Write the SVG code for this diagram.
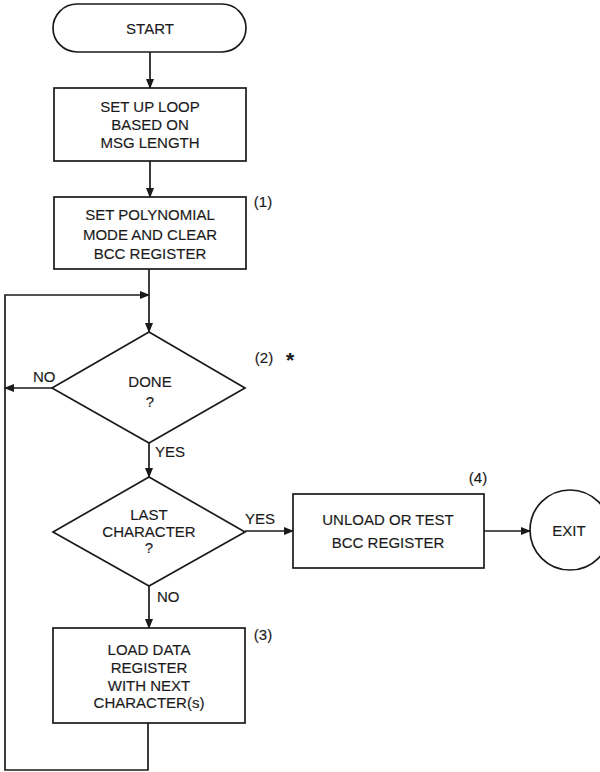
<svg xmlns="http://www.w3.org/2000/svg" width="600" height="772" viewBox="0 0 600 772">
<style>
.s{fill:none;stroke:#1a1a1a;stroke-width:1.7}
.n{fill:#fff;stroke:#1a1a1a;stroke-width:1.7}
text{font-family:"Liberation Sans",Arial,sans-serif;font-size:15px;fill:#1a1a1a;stroke:#1a1a1a;stroke-width:0.15;text-anchor:middle}
.l{text-anchor:start}
</style>
<defs>
<marker id="a" markerWidth="10" markerHeight="8" refX="9" refY="4" orient="auto" markerUnits="userSpaceOnUse">
<path d="M0,0 L10,4 L0,8 Z" fill="#1a1a1a"/>
</marker>
</defs>
<rect width="600" height="772" fill="#fff"/>
<g id="connectors">
<line class="s" x1="150" y1="52" x2="150" y2="88" marker-end="url(#a)"/>
<line class="s" x1="150" y1="161" x2="150" y2="197" marker-end="url(#a)"/>
<line class="s" x1="149" y1="269" x2="149" y2="332" marker-end="url(#a)"/>
<line class="s" x1="52" y1="388" x2="5" y2="388" marker-end="url(#a)"/>
<line class="s" x1="149" y1="443" x2="149" y2="477" marker-end="url(#a)"/>
<line class="s" x1="245" y1="531" x2="293" y2="531" marker-end="url(#a)"/>
<line class="s" x1="484" y1="531" x2="530" y2="531" marker-end="url(#a)"/>
<line class="s" x1="149" y1="586" x2="149" y2="628" marker-end="url(#a)"/>
<polyline class="s" points="148,723 148,770 5,770 5,295 149,295" marker-end="url(#a)"/>
<text class="l" x="33" y="382">NO</text>
<text class="l" x="155" y="457">YES</text>
<text class="l" x="245" y="524">YES</text>
<text class="l" x="157" y="602">NO</text>
</g>
<g id="start">
<rect class="n" x="53" y="4" width="193" height="48" rx="24"/>
<text x="150" y="34">START</text>
</g>
<g id="setup-loop">
<rect class="n" x="54" y="88" width="192" height="73"/>
<text x="150" y="112">SET UP LOOP</text>
<text x="150" y="130">BASED ON</text>
<text x="150" y="148">MSG LENGTH</text>
</g>
<g id="set-polynomial">
<rect class="n" x="54" y="197" width="192" height="72"/>
<text x="150" y="220">SET POLYNOMIAL</text>
<text x="150" y="240">MODE AND CLEAR</text>
<text x="150" y="259">BCC REGISTER</text>
<text x="263" y="207">(1)</text>
</g>
<g id="done">
<polygon class="n" points="149,332 245,388 149,443 52,388"/>
<text x="150" y="387">DONE</text>
<text x="150" y="407">?</text>
<text x="264" y="363">(2)</text>
<text x="290" y="367" style="font-size:21px;font-weight:bold">*</text>
</g>
<g id="last-character">
<polygon class="n" points="149,477 245,532 149,586 53,532"/>
<text x="149" y="520">LAST</text>
<text x="149" y="537">CHARACTER</text>
<text x="149" y="553">?</text>
</g>
<g id="unload">
<rect class="n" x="293" y="494" width="191" height="74"/>
<text x="388" y="525">UNLOAD OR TEST</text>
<text x="388" y="548">BCC REGISTER</text>
<text x="478" y="483">(4)</text>
</g>
<g id="exit">
<circle class="n" cx="570" cy="530" r="40"/>
<text x="569" y="536">EXIT</text>
</g>
<g id="load-data">
<rect class="n" x="53" y="628" width="192" height="95"/>
<text x="149" y="655">LOAD DATA</text>
<text x="149" y="673">REGISTER</text>
<text x="149" y="691">WITH NEXT</text>
<text x="149" y="708">CHARACTER(s)</text>
<text x="263" y="640">(3)</text>
</g>
</svg>
